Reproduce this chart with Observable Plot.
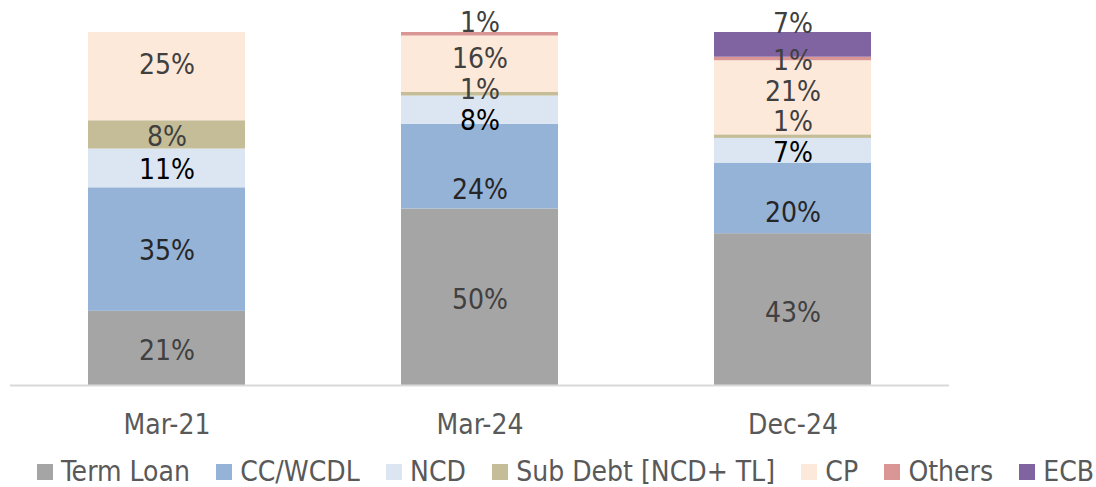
<!DOCTYPE html>
<html>
<head>
<meta charset="utf-8">
<script src="https://cdn.jsdelivr.net/npm/d3@7"></script>
<script src="https://cdn.jsdelivr.net/npm/@observablehq/plot@0.6"></script>
<style>
  html, body { margin: 0; padding: 0; background: #fff; }
  #chart { width: 1096px; height: 487px; position: relative; overflow: hidden;
    font-family: "DejaVu Sans Condensed", "DejaVu Sans", sans-serif; font-stretch: condensed; }
  #legend { position: absolute; left: 37px; top: 456px; display: flex; align-items: center;
    font-size: 28px; color: #595959; white-space: nowrap; line-height: 31px; height: 31px; }
  .item { display: flex; align-items: center; margin-right: 26.3px; }
  .sw { width: 16px; height: 16px; margin-right: 8px; flex: none; }
</style>
</head>
<body>
<div id="chart"></div>
<script>
const categories = ["Mar-21", "Mar-24", "Dec-24"];
const series = ["Term Loan", "CC/WCDL", "NCD", "Sub Debt [NCD+ TL]", "CP", "Others", "ECB"];
const termLoan = [21, 50, 43];
const ccWcdl   = [35, 24, 20];
const ncd      = [11, 8, 7];
const subDebt  = [8, 1, 1];
const cp       = [25, 16, 21];
const others   = [0, 1, 1];
const ecb      = [0, 0, 7];
const colors = ["#a5a5a5", "#95b3d7", "#dce6f2", "#c4bd97", "#fde9d9", "#d99694", "#8064a2"];
const labelColors = ["#404040", "#262626", "#000000", "#404040", "#404040", "#404040", "#404040"];
// pixel nudges of the data labels (style), per series, per category
const labelDy = [
  [3, 3, 3],
  [1, 23, 15],
  [2, 11, 2],
  [2, -4, -15],
  [-12, -5, -6],
  [0, -11, 2],
  [0, 0, -21]
];

const valuesBySeries = [termLoan, ccWcdl, ncd, subDebt, cp, others, ecb];
const data = [];
series.forEach((s, si) => categories.forEach((c, ci) => {
  data.push({category: c, series: s, value: valuesBySeries[si][ci], si, ci});
}));

const stackOpts = {x: "category", y: "value", z: "series", order: series};
const labelMarks = data.filter(d => d.value > 0).map(row =>
  Plot.text(data, Plot.stackY({
    ...stackOpts,
    text: d => d === row ? d.value + "%" : null,
    dy: labelDy[row.si][row.ci],
    fill: labelColors[row.si],
    fontSize: 28
  }))
);

const plot = Plot.plot({
  width: 1096,
  height: 452,
  marginLeft: 10,
  marginRight: 147,
  marginTop: 32,
  marginBottom: 67,
  style: {fontFamily: '"DejaVu Sans Condensed", "DejaVu Sans", sans-serif', fontStretch: "condensed", background: "#fff"},
  x: {domain: categories, paddingInner: 0.5, paddingOuter: 0.25, label: null},
  y: {domain: [0, 100], axis: null},
  color: {domain: series, range: colors},
  marks: [
    Plot.barY(data, Plot.stackY({...stackOpts, fill: "series", inset: 0})),
    Plot.ruleY([0], {stroke: "#d9d9d9", strokeWidth: 2}),
    Plot.axisX({tickSize: 0, tickPadding: 29, fontSize: 28, fill: "#595959", label: null}),
    ...labelMarks
  ]
});
const chart = document.getElementById("chart");
chart.appendChild(plot);

const legend = document.createElement("div");
legend.id = "legend";
series.forEach((s, i) => {
  const item = document.createElement("div");
  item.className = "item";
  const sw = document.createElement("span");
  sw.className = "sw";
  sw.style.background = colors[i];
  const t = document.createElement("span");
  t.textContent = s;
  item.appendChild(sw);
  item.appendChild(t);
  legend.appendChild(item);
});
chart.appendChild(legend);
</script>
</body>
</html>
